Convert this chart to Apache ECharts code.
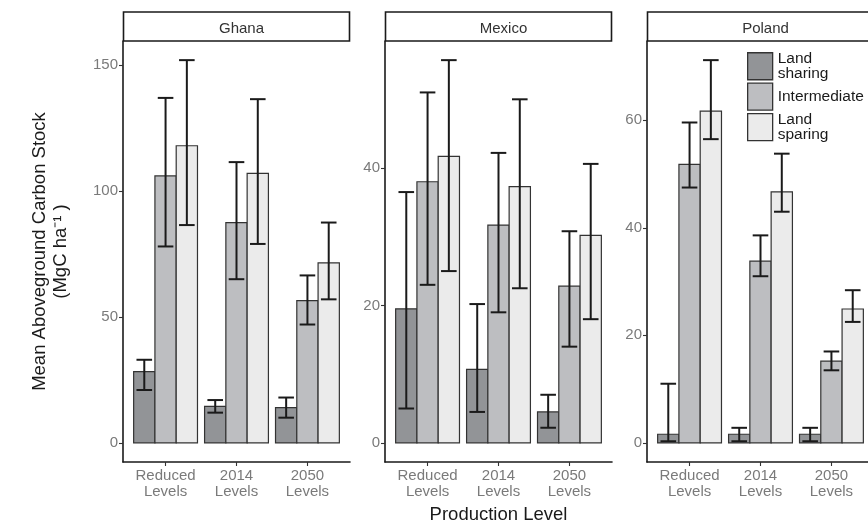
<!DOCTYPE html>
<html>
<head>
<meta charset="utf-8">
<script src="https://cdn.jsdelivr.net/npm/echarts@6/dist/echarts.min.js"></script>
<style>
html,body{margin:0;padding:0;background:#fff;}
#chart{width:868px;height:523px;}
</style>
</head>
<body>
<div id="chart"></div>
<script>
// ---- Data ----
const categories = ['Reduced\nLevels', '2014\nLevels', '2050\nLevels'];
const countries = ['Ghana', 'Mexico', 'Poland'];
const strategies = ['Land\nsharing', 'Intermediate', 'Land\nsparing'];

// each entry: [mean, lower, upper] per production level
const ghanaSharing      = [[28.3, 21.0, 33.0], [14.5, 12.0, 17.0], [14.0, 10.0, 18.0]];
const ghanaIntermediate = [[106.0, 78.0, 137.0], [87.5, 65.0, 111.5], [56.5, 47.0, 66.5]];
const ghanaSparing      = [[118.0, 86.5, 152.0], [107.0, 79.0, 136.5], [71.5, 57.0, 87.5]];

const mexicoSharing      = [[19.5, 5.0, 36.5], [10.7, 4.5, 20.2], [4.5, 2.2, 7.0]];
const mexicoIntermediate = [[38.0, 23.0, 51.0], [31.7, 19.0, 42.2], [22.8, 14.0, 30.8]];
const mexicoSparing      = [[41.7, 25.0, 55.7], [37.3, 22.5, 50.0], [30.2, 18.0, 40.6]];

const polandSharing      = [[1.6, 0.3, 11.0], [1.6, 0.3, 2.8], [1.6, 0.3, 2.8]];
const polandIntermediate = [[51.8, 47.5, 59.6], [33.8, 31.0, 38.6], [15.2, 13.5, 17.0]];
const polandSparing      = [[61.7, 56.5, 71.2], [46.7, 43.0, 53.8], [24.9, 22.5, 28.4]];

const yTicks = [[0, 50, 100, 150], [0, 20, 40], [0, 20, 40, 60]];

// ---- Styling ----
const fills = ['#929497', '#bdbec1', '#ebebeb'];
const FONT = 'Liberation Sans, Arial, sans-serif';
const countryData = [
  [ghanaSharing, ghanaIntermediate, ghanaSparing],
  [mexicoSharing, mexicoIntermediate, mexicoSparing],
  [polandSharing, polandIntermediate, polandSparing]
];

const panelLeft = [123, 385, 647];
const panelWidth = 227;
const panelTop = 41;
const panelHeight = 421;

function yRange(sets) {
  let mx = 0;
  sets.forEach(s => s.forEach(d => { mx = Math.max(mx, d[2], d[0]); }));
  const pad = mx * 0.05;
  return [-pad, mx + pad];
}

const grids = [], xAxes = [], yAxes = [], series = [], titles = [], graphics = [];
const BW = 0.3; // dodge width per bar (0.9 / 3)

countries.forEach((c, ci) => {
  grids.push({left: panelLeft[ci], top: panelTop, width: panelWidth, height: panelHeight,
              outerBoundsMode: 'none', containLabel: false});
  const xa = {
    type: 'value', gridIndex: ci, min: 0.4, max: 3.6,
    axisLine: {show: true, onZero: false, lineStyle: {color: '#1a1a1a', width: 1.6}},
    axisTick: {show: true, customValues: [1, 2, 3], length: 4, lineStyle: {color: '#333', width: 1.1}},
    axisLabel: {
      customValues: [1, 2, 3],
      formatter: v => categories[Math.round(v) - 1],
      color: '#7a7a7a', fontSize: 15, fontFamily: FONT, lineHeight: 16, margin: 6
    },
    splitLine: {show: false}
  };
  if (ci === 1) {
    xa.name = 'Production Level';
    xa.nameLocation = 'middle';
    xa.nameGap = 43;
    xa.nameTextStyle = {color: '#1a1a1a', fontSize: 18.5, fontFamily: FONT};
  }
  xAxes.push(xa);
  const yr = yRange(countryData[ci]);
  const ya = {
    type: 'value', gridIndex: ci, min: yr[0], max: yr[1],
    axisLine: {show: true, onZero: false, lineStyle: {color: '#1a1a1a', width: 1.6}},
    axisTick: {show: true, customValues: yTicks[ci], length: 4, lineStyle: {color: '#333', width: 1.1}},
    axisLabel: {customValues: yTicks[ci], color: '#7a7a7a', fontSize: 15, fontFamily: FONT, margin: 5},
    splitLine: {show: false}
  };
  if (ci === 0) {
    ya.name = 'Mean Aboveground Carbon Stock\n(MgC ha⁻¹ )';
    ya.nameLocation = 'middle';
    ya.nameGap = 52;
    ya.nameRotate = 90;
    ya.nameTextStyle = {color: '#1a1a1a', fontSize: 18.5, fontFamily: FONT, lineHeight: 21};
  }
  yAxes.push(ya);

  // strip box
  graphics.push({
    type: 'rect', shape: {x: panelLeft[ci] + 0.5, y: 12, width: panelWidth - 1, height: 29},
    style: {fill: '#fff', stroke: '#1a1a1a', lineWidth: 1.6}, z: 0
  });
  titles.push({
    text: c, left: panelLeft[ci] + panelWidth / 2, top: 16, textAlign: 'center', z: 20,
    textStyle: {fontSize: 15, fontWeight: 'normal', color: '#333', fontFamily: FONT}
  });

  countryData[ci].forEach((arr, si) => {
    const off = (si - 1) * BW;
    const data = arr.map((d, k) => [k + 1, d[0], d[1], d[2]]);
    series.push({
      type: 'custom', name: strategies[si], xAxisIndex: ci, yAxisIndex: ci,
      itemStyle: {color: fills[si], borderColor: '#333', borderWidth: 1.2},
      encode: {x: 0, y: 1},
      data: data,
      z: 2,
      renderItem: (params, api) => {
        const x = api.value(0), v = api.value(1);
        const p0 = api.coord([x + off - BW / 2, v]);
        const p1 = api.coord([x + off + BW / 2, 0]);
        return {
          type: 'rect',
          shape: {x: p0[0], y: p0[1], width: p1[0] - p0[0], height: p1[1] - p0[1]},
          style: {fill: fills[si], stroke: '#333', lineWidth: 1.2}
        };
      }
    });
    series.push({
      type: 'custom', xAxisIndex: ci, yAxisIndex: ci,
      encode: {x: 0, y: [2, 3]},
      data: data,
      z: 5,
      silent: true,
      renderItem: (params, api) => {
        const x = api.value(0) + off;
        const lo = api.coord([x, api.value(2)]);
        const hi = api.coord([x, api.value(3)]);
        const capL = api.coord([x - 0.11, 0])[0];
        const capR = api.coord([x + 0.11, 0])[0];
        const st = {stroke: '#1a1a1a', lineWidth: 2};
        return {
          type: 'group',
          children: [
            {type: 'line', shape: {x1: lo[0], y1: lo[1], x2: hi[0], y2: hi[1]}, style: st},
            {type: 'line', shape: {x1: capL, y1: lo[1], x2: capR, y2: lo[1]}, style: st},
            {type: 'line', shape: {x1: capL, y1: hi[1], x2: capR, y2: hi[1]}, style: st}
          ]
        };
      }
    });
  });
});

const chart = echarts.init(document.getElementById('chart'), null, {renderer: 'canvas'});
chart.setOption({
  animation: false,
  backgroundColor: '#fff',
  title: titles,
  grid: grids,
  xAxis: xAxes,
  yAxis: yAxes,
  legend: {
    orient: 'vertical', left: 747, top: 51, padding: 0,
    itemWidth: 25, itemHeight: 27, itemGap: 1,
    icon: 'rect',
    selectedMode: false,
    data: strategies.map((s, i) => ({
      name: s,
      itemStyle: {color: fills[i], borderColor: '#333', borderWidth: 1.3}
    })),
    textStyle: {fontSize: 15.5, color: '#1a1a1a', fontFamily: FONT, lineHeight: 14.5}
  },
  graphic: graphics,
  series: series
});
</script>
</body>
</html>
